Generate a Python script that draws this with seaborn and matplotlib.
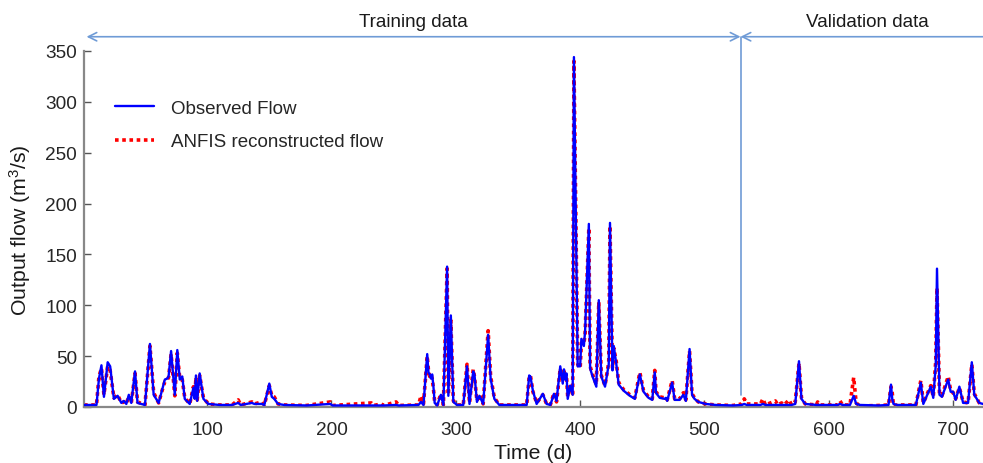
import numpy as np
import pandas as pd
import matplotlib
matplotlib.use("Agg")
import matplotlib.pyplot as plt
import seaborn as sns

# daily flow (key days only, line joins them)
days = [1, 11, 13, 15, 17, 20, 22, 25, 28, 31, 33, 35, 37, 39, 42, 44, 50,
        54, 57, 61, 64, 66, 68, 69, 71, 74, 76, 78, 80, 82, 86, 89, 90, 91,
        92, 94, 97, 101, 110, 120, 125, 127, 136, 138, 144, 146, 150, 152,
        154, 157, 162, 180, 199, 201, 232, 234, 240, 242, 252, 254, 270, 272,
        274, 277, 278, 279, 280, 281, 282, 283, 285, 288, 290, 293, 294, 296,
        298, 301, 306, 309, 311, 314, 315, 317, 319, 322, 326, 328, 331, 335,
        357, 359, 360, 362, 365, 370, 373, 376, 379, 381, 383, 384, 386, 387,
        388, 389, 390, 392, 394, 395, 398, 400, 401, 403, 404, 407, 408, 410,
        413, 415, 417, 420, 423, 424, 426, 427, 429, 431, 435, 440, 444, 448,
        451, 455, 458, 460, 461, 464, 468, 469, 470, 474, 476, 480, 483, 485,
        488, 490, 492, 495, 501, 509, 523, 530, 532, 534, 545, 547, 549, 557,
        559, 562, 564, 568, 570, 573, 576, 578, 581, 590, 591, 593, 607, 609,
        611, 617, 620, 622, 625, 640, 648, 650, 651, 652, 655, 670, 674, 676,
        682, 684, 686, 687, 689, 691, 696, 698, 700, 702, 705, 708, 712, 715,
        717, 721, 724]

observed = [2, 2, 28, 41, 10, 44, 40, 8, 11, 4, 6, 3, 12, 4, 35, 4, 2,
            62, 12, 4, 18, 27, 28, 30, 55, 12, 56, 27, 30, 8, 3, 19, 8, 31,
            6, 33, 8, 3, 2, 2, 4, 2, 4, 3, 3, 2, 23, 10,
            8, 3, 2, 1.5, 3, 1.5, 1.5, 1.5, 1.5, 1.5, 2, 1.5, 2, 5,
            2, 52, 34, 32, 28, 32, 20, 4, 1.5, 12, 2, 138, 11, 90,
            5, 2, 2, 40, 3, 35, 32, 5, 11, 3, 71, 28, 8, 2,
            2, 31, 30, 16, 3, 13, 3, 2, 13, 6, 29, 40, 23, 37,
            27, 33, 8, 21, 12, 344, 40, 40, 67, 60, 75, 180, 38, 30,
            20, 105, 30, 20, 42, 181, 36, 60, 43, 22, 16, 11, 8, 32,
            15, 9, 7, 34, 14, 9, 8, 9, 6, 24, 7, 7, 12, 6,
            57, 12, 8, 5, 3, 2, 1.5, 2, 3, 2, 2, 3, 2, 2,
            2, 2, 2, 2, 2, 3, 45, 8, 3, 2, 2, 2, 2, 3,
            2, 2, 11, 3, 2, 1.5, 2, 22, 8, 3, 2, 2, 24, 3,
            20, 9, 41, 136, 12, 10, 27, 15, 15, 7, 20, 4, 4, 44,
            12, 4, 3]

anfis = [2, 2, 30, 38, 12, 40, 36, 9, 12, 4, 5, 3, 11, 4, 33, 5, 2,
         60, 14, 4, 17, 25, 27, 29, 52, 11, 53, 28, 27, 9, 3, 20, 8, 29,
         7, 31, 9, 3, 2, 2, 7, 2, 5, 3, 5, 2, 21, 11,
         10, 3, 2, 1.5, 5, 1.5, 4, 1.5, 3, 1.5, 5, 1.5, 2, 11,
         3, 50, 36, 30, 32, 28, 18, 5, 2, 13, 2, 136, 12, 85,
         6, 2, 2, 42, 4, 37, 30, 6, 12, 3, 75, 30, 9, 2,
         2, 30, 31, 15, 4, 12, 3, 2, 14, 5, 27, 38, 25, 35,
         28, 31, 10, 20, 13, 340, 42, 38, 63, 62, 72, 176, 40, 32,
         22, 103, 31, 21, 44, 178, 38, 58, 45, 24, 17, 12, 9, 34,
         16, 10, 8, 36, 15, 10, 9, 9, 7, 26, 8, 8, 14, 7,
         55, 13, 9, 5, 3, 2, 1.5, 3, 8, 3, 3, 8, 2, 6,
         2, 4, 2, 7, 2, 5, 43, 9, 3, 2, 5, 2, 2, 6,
         2, 2, 29, 4, 1, 1.5, 2, 20, 14, 1, 2, 2, 26, 4,
         21, 10, 45, 117, 13, 11, 30, 16, 14, 8, 19, 5, 4, 42,
         13, 4, 3]

split_day = 529
x_ticks = [100, 200, 300, 400, 500, 600, 700]
y_ticks = [0, 50, 100, 150, 200, 250, 300, 350]

df = pd.DataFrame({"day": days, "observed": observed, "anfis": anfis})

sns.set_style("ticks")
plt.rcParams["font.family"] = ["Liberation Sans", "DejaVu Sans"]
plt.rcParams["mathtext.default"] = "regular"

fig = plt.figure(figsize=(9.83, 4.64), dpi=100)
ax = fig.add_axes([0.0855, 0.1207, 0.9145, 0.7673])

sns.lineplot(data=df, x="day", y="anfis", ax=ax, color="red", lw=2.6,
             linestyle=(0, (1, 1)), label="ANFIS reconstructed flow", zorder=2)
sns.lineplot(data=df, x="day", y="observed", ax=ax, color="#0000ff", lw=1.7,
             label="Observed Flow", zorder=3)

ax.set_xlim(1, 724)
ax.set_ylim(0, 350)
ax.set_xticks(x_ticks)
ax.set_yticks(y_ticks)
ax.set_xlabel("Time (d)", fontsize=15.3, color="#1a1a1a", labelpad=4)
ax.set_ylabel(r"Output flow (m$^3$/s)", fontsize=15.3, color="#1a1a1a", labelpad=9)
ax.tick_params(direction="in", length=5, width=1, color="#555555",
               labelsize=13.7, labelcolor="#262626")
ax.tick_params(axis="x", pad=10)
ax.tick_params(axis="y", pad=5)

for side in ["top", "right"]:
    ax.spines[side].set_visible(False)
for side in ["left", "bottom"]:
    ax.spines[side].set_color("#888888")
    ax.spines[side].set_linewidth(1.6)

# legend: observed first
h, l = ax.get_legend_handles_labels()
ax.legend([h[1], h[0]], [l[1], l[0]], loc="upper left",
          bbox_to_anchor=(0.0156, 0.91), frameon=False, fontsize=13.5,
          handlelength=2.1, labelspacing=0.85, handletextpad=0.9)

# training / validation markers
arrow_col = "#6f9bd6"
trans = ax.get_xaxis_transform()
ax.plot([split_day, split_day], [0.034, 1.04], color=arrow_col, lw=1.2,
        transform=trans, clip_on=False)
ax.annotate("", xy=(3, 1.04), xytext=(split_day, 1.04), xycoords=trans,
            textcoords=trans,
            arrowprops=dict(arrowstyle="<->,head_length=0.6,head_width=0.3",
                            color=arrow_col, lw=1.2, shrinkA=0, shrinkB=0))
ax.annotate("", xy=(split_day, 1.04), xytext=(740, 1.04), xycoords=trans,
            textcoords=trans, annotation_clip=False,
            arrowprops=dict(arrowstyle="->,head_length=0.6,head_width=0.3",
                            color=arrow_col, lw=1.2, shrinkA=0, shrinkB=0))
ax.text(266, 1.084, "Training data", transform=trans, ha="center", va="center",
        fontsize=13.6, color="#1a1a1a")
ax.text(631, 1.084, "Validation data", transform=trans, ha="center", va="center",
        fontsize=13.6, color="#1a1a1a")

fig.savefig("out.png", dpi=100)
